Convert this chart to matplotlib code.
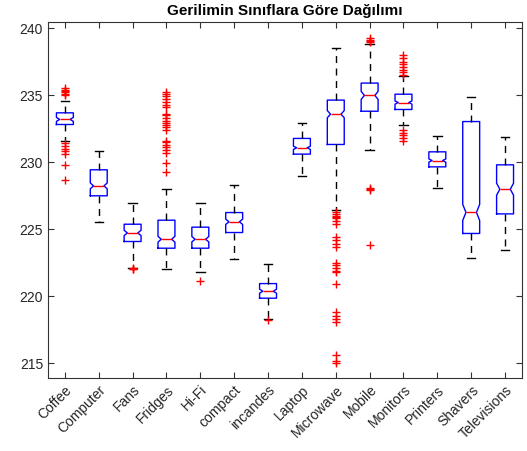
import matplotlib
matplotlib.use("Agg")
import matplotlib.pyplot as plt

categories = ["Coffee", "Computer", "Fans", "Fridges", "Hi-Fi", "compact", "incandes",
              "Laptop", "Microwave", "Mobile", "Monitors", "Printers", "Shavers", "Televisions"]
q1 = [232.81, 227.49, 224.08, 223.58, 223.58, 224.75, 219.85, 230.60, 231.32, 233.80, 233.93, 229.65, 224.68, 226.14]
med = [233.19, 228.23, 224.72, 224.25, 224.25, 225.55, 220.37, 231.07, 233.58, 234.98, 234.45, 230.12, 226.25, 227.98]
q3 = [233.68, 229.43, 225.37, 225.67, 225.15, 226.24, 220.94, 231.77, 234.63, 235.90, 235.07, 230.77, 233.03, 229.80]
whislo = [231.55, 225.52, 222.14, 222.00, 221.77, 222.79, 218.31, 229.00, 226.40, 230.94, 232.80, 228.08, 222.86, 223.43]
whishi = [234.60, 230.80, 226.96, 228.00, 226.96, 228.26, 222.39, 232.93, 238.53, 238.80, 236.40, 231.94, 234.87, 231.89]
notch_half = [0.15, 0.22, 0.2, 0.22, 0.2, 0.2, 0.15, 0.12, 0.27, 0.3, 0.12, 0.12, 0.6, 0.45]
fliers = [
    [235.0, 235.1, 235.2, 235.3, 235.4, 235.5, 231.4, 231.2, 231.0, 230.8, 230.6, 229.8, 228.7],
    [],
    [222.0, 222.1, 222.05],
    [229.3, 229.95, 230.65, 230.9, 231.1, 231.3, 231.5, 231.6, 232.4, 232.6, 232.8, 232.9,
     233.1, 233.3, 233.5, 233.6, 234.1, 234.3, 234.5, 234.7, 234.9, 235.1, 235.25],
    [221.1],
    [],
    [218.25],
    [],
    [226.3, 226.1, 226.0, 225.9, 225.8, 225.6, 225.4, 224.4, 224.2, 223.9, 223.7, 222.5, 222.3,
     222.1, 221.9, 221.8, 220.9, 218.8, 218.5, 218.3, 218.1, 215.6, 215.2, 215.0],
    [238.95, 239.05, 239.15, 239.25, 228.0, 227.9, 228.05, 223.8],
    [236.5, 236.7, 236.9, 237.1, 237.3, 237.5, 237.8, 238.0, 232.4, 232.2, 232.0, 231.8, 231.6],
    [],
    [],
    [],
]

plt.rcParams['font.family'] = ['Liberation Sans', 'DejaVu Sans']

stats = []
for i, c in enumerate(categories):
    stats.append(dict(label=c, q1=q1[i], med=med[i], q3=q3[i], whislo=whislo[i], whishi=whishi[i],
                      cilo=med[i] - notch_half[i], cihi=med[i] + notch_half[i], fliers=fliers[i]))

W = 0.5
positions = list(range(1, len(categories) + 1))
fig = plt.figure(figsize=(5.27, 4.51), dpi=100)
ax = fig.add_axes([0.091, 0.162, 0.8995, 0.789])
res = ax.bxp(stats, positions=positions, widths=W, shownotches=True,
             boxprops=dict(color='blue', linewidth=1.0),
             medianprops=dict(color='red', linewidth=1.0),
             whiskerprops=dict(color='black', linewidth=1.0, linestyle=(0, (5, 4))),
             capprops=dict(color='black', linewidth=1.0),
             flierprops=dict(marker='+', markeredgecolor='red', markersize=6, linestyle='none'),
             capwidths=0.25)
# make notch narrow less (like MATLAB)
for p, box, mline in zip(positions, res['boxes'], res['medians']):
    xs = list(box.get_xdata())
    new = []
    for x in xs:
        if abs(x - (p - W * 0.25)) < 1e-9:
            new.append(p - W * 0.31)
        elif abs(x - (p + W * 0.25)) < 1e-9:
            new.append(p + W * 0.31)
        else:
            new.append(x)
    box.set_xdata(new)
    mline.set_xdata([p - W * 0.31, p + W * 0.31])

ax.set_xlim(0.5, len(categories) + 0.5)
ax.set_ylim(213.9, 240.45)
ax.set_yticks([215, 220, 225, 230, 235, 240])
ax.set_xticks(positions)
ax.set_xticklabels(categories, rotation=45, ha='right', rotation_mode='anchor', fontsize=10, color='#262626')
ax.tick_params(axis='y', labelsize=10, labelcolor='#262626')
ax.tick_params(direction='in', top=True, right=True, length=4, color='#333333')
for s in ax.spines.values():
    s.set_color('#333333')
ax.set_title("Gerilimin Sınıflara Göre Dağılımı", fontsize=11, fontweight='bold', pad=5)
fig.savefig("out.png", dpi=100)
